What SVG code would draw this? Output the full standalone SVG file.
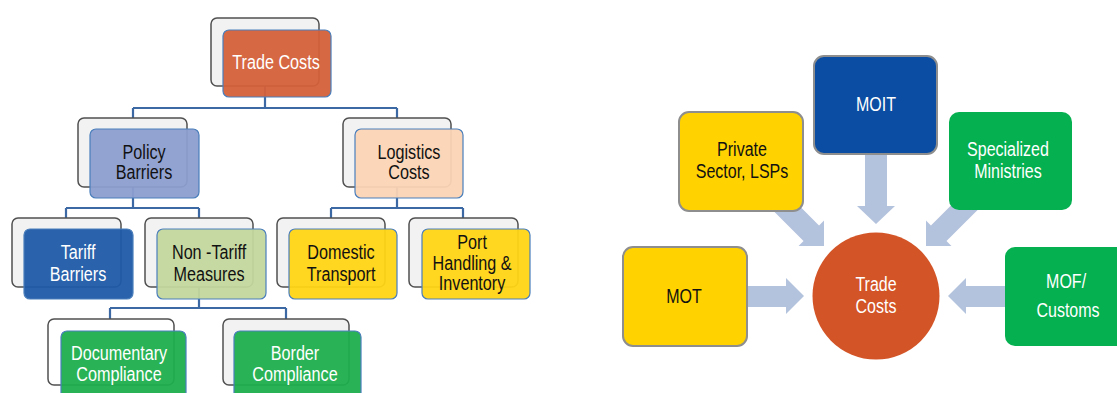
<svg xmlns="http://www.w3.org/2000/svg" width="1117" height="393" viewBox="0 0 1117 393">
<style>
text{font-family:"Liberation Sans",Arial,sans-serif;font-size:21px;text-anchor:middle;transform-box:fill-box;transform-origin:center;transform:scaleX(0.77)}
text.r{font-size:20px;transform:scaleX(0.8)}
.back{fill:#F2F2F2;stroke:#505050;stroke-width:1.5}
.front{stroke:#4A7EBB;stroke-width:1.2;fill-opacity:0.95}
.conn{fill:none;stroke:#3C69A4;stroke-width:2.2}
.w{fill:#FFFFFF}
.k{fill:#111111}
.arr{fill:#B4C3DD}
.rb{stroke:#8E8E8E;stroke-width:2}
</style>
<defs>
<path id="ba" d="M0,0 L-18,-18 L-18,-11 L-90,-11 L-90,11 L-18,11 L-18,18 Z"/>
</defs>
<rect width="1117" height="393" fill="#FFFFFF"/>
<g id="connectors">
<path class="conn" d="M265,86 V108 M133,108 H397 M133,108 V118 M397,108 V118"/>
<path class="conn" d="M133,187 V208 M66,208 H199 M66,208 V218 M199,208 V218"/>
<path class="conn" d="M397,187 V208 M331,208 H463 M331,208 V218 M463,208 V218"/>
<path class="conn" d="M199,287 V308 M110,308 H286 M110,308 V319 M286,308 V319"/>
<g class="arr">
<path d="M804,296 L786,278 L786,286 L747,286 L747,307 L786,307 L786,314 Z"/>
<path d="M948,296 L966,278 L966,286 L1006,286 L1006,307 L966,307 L966,314 Z"/>
<path d="M876,224 L857,206 L865,206 L865,153 L887,153 L887,206 L895,206 Z"/>
<use href="#ba" transform="translate(824,246) rotate(45)"/>
<use href="#ba" transform="translate(926,246) rotate(135)"/>
</g>
</g>
<g id="trade-costs-tree">
<rect class="back" x="211" y="18" width="108" height="68" rx="6"/>
<rect class="front" x="223" y="30" width="108" height="67" rx="6" fill="#D5603A"/>
<text class="w" x="276" y="69">Trade Costs</text>
</g>
<g id="policy-barriers">
<rect class="back" x="78" y="118" width="109" height="69" rx="6"/>
<rect class="front" x="90" y="129" width="109" height="69" rx="6" fill="#8C9ECF"/>
<text class="k" x="144" y="159">Policy</text>
<text class="k" x="144" y="179">Barriers</text>
</g>
<g id="logistics-costs">
<rect class="back" x="343" y="118" width="108" height="69" rx="6"/>
<rect class="front" x="355" y="129" width="108" height="69" rx="6" fill="#FBD4B4"/>
<text class="k" x="409" y="159">Logistics</text>
<text class="k" x="409" y="179">Costs</text>
</g>
<g id="tariff-barriers">
<rect class="back" x="12" y="218" width="109" height="69" rx="6"/>
<rect class="front" x="24" y="229" width="109" height="70" rx="6" fill="#1F5AA6"/>
<text class="w" x="78" y="259">Tariff</text>
<text class="w" x="78" y="281">Barriers</text>
</g>
<g id="non-tariff-measures">
<rect class="back" x="145" y="218" width="108" height="69" rx="6"/>
<rect class="front" x="157" y="229" width="109" height="70" rx="6" fill="#C4D79D"/>
<text class="k" x="209" y="259">Non -Tariff</text>
<text class="k" x="209" y="281">Measures</text>
</g>
<g id="domestic-transport">
<rect class="back" x="277" y="218" width="108" height="69" rx="6"/>
<rect class="front" x="289" y="229" width="108" height="70" rx="6" fill="#FFD414"/>
<text class="k" x="341" y="259">Domestic</text>
<text class="k" x="341" y="281">Transport</text>
</g>
<g id="port-handling">
<rect class="back" x="409" y="218" width="109" height="69" rx="6"/>
<rect class="front" x="422" y="229" width="108" height="70" rx="6" fill="#FFD414"/>
<text class="k" x="472" y="249">Port</text>
<text class="k" x="472" y="270">Handling &amp;</text>
<text class="k" x="472" y="290">Inventory</text>
</g>
<g id="documentary-compliance">
<rect class="back" x="48" y="319" width="126" height="66" rx="6" style="fill:#FFFFFF"/>
<rect class="front" x="61" y="331" width="125" height="75" rx="6" fill="#1DAF4D"/>
<text class="w" x="119" y="360">Documentary</text>
<text class="w" x="119" y="381">Compliance</text>
</g>
<g id="border-compliance">
<rect class="back" x="223" y="319" width="126" height="66" rx="6"/>
<rect class="front" x="234" y="331" width="127" height="75" rx="6" fill="#1DAF4D"/>
<text class="w" x="295" y="360">Border</text>
<text class="w" x="295" y="381">Compliance</text>
</g>
<g id="moit">
<rect class="rb" x="814" y="56" width="123" height="98" rx="10" fill="#0A4DA2"/>
<text class="w r" x="876" y="111">MOIT</text>
</g>
<g id="private-sector">
<rect class="rb" x="679" y="112" width="124" height="99" rx="10" fill="#FFD200"/>
<text class="k r" x="742" y="156">Private</text>
<text class="k r" x="742" y="178">Sector, LSPs</text>
</g>
<g id="specialized-ministries">
<rect x="949" y="112" width="123" height="98" rx="10" fill="#05B050"/>
<text class="w r" x="1008" y="156">Specialized</text>
<text class="w r" x="1008" y="178">Ministries</text>
</g>
<g id="mot">
<rect class="rb" x="623" y="247" width="124" height="99" rx="10" fill="#FFD200"/>
<text class="k r" x="684" y="303">MOT</text>
</g>
<g id="mof-customs">
<rect x="1005" y="247" width="124" height="99" rx="10" fill="#05B050"/>
<text class="w r" x="1066" y="288">MOF/</text>
<text class="w r" x="1068" y="317">Customs</text>
</g>
<g id="trade-costs-hub">
<circle cx="876" cy="296" r="63.5" fill="#D35426"/>
<text class="w r" x="876" y="291">Trade</text>
<text class="w r" x="876" y="313">Costs</text>
</g>
</svg>
